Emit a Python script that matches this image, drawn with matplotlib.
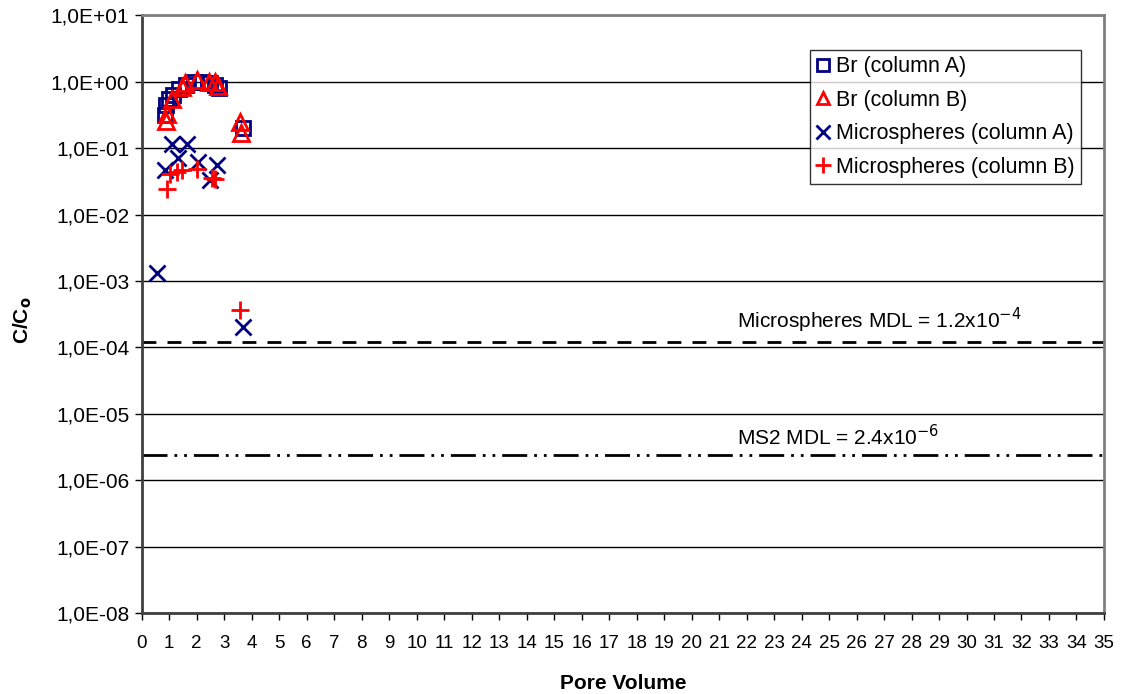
import numpy as np
import matplotlib
matplotlib.use("Agg")
import matplotlib.pyplot as plt
from matplotlib.ticker import FixedLocator, FuncFormatter, NullLocator

plt.rcParams["font.family"] = ["Liberation Sans", "DejaVu Sans"]

# Br tracer, column A / column B
br_a_pv = [0.85, 0.9, 1.0, 1.15, 1.35, 1.6, 1.9, 2.2, 2.5, 2.65, 2.8, 3.7]
br_a_c = [0.32, 0.45, 0.55, 0.62, 0.78, 0.9, 0.98, 0.98, 0.95, 0.9, 0.8, 0.2]
br_b_pv = [0.9, 0.92, 1.09, 1.45, 1.57, 2.0, 2.46, 2.67, 2.79, 3.57, 3.6]
br_b_c = [0.26, 0.33, 0.55, 0.82, 0.94, 1.05, 1.0, 0.99, 0.85, 0.25, 0.17]

# microspheres, column A / column B
ms_a_pv = [0.56, 0.85, 1.09, 1.33, 1.64, 2.06, 2.48, 2.73, 3.69]
ms_a_c = [0.0013, 0.046, 0.117, 0.070, 0.117, 0.062, 0.033, 0.055, 2.0e-4]
ms_b_pv = [0.91, 1.04, 1.27, 1.45, 2.0, 2.55, 2.67, 3.58]
ms_b_c = [0.024, 0.041, 0.044, 0.047, 0.049, 0.035, 0.034, 3.6e-4]

MDL_MS = 1.2e-4
MDL_MS2 = 2.4e-6

NAVY = "#000080"
RED = "#ff0000"

fig = plt.figure(figsize=(11.25, 6.94), dpi=100)
ax = fig.add_axes([0.126, 0.1167, 0.8553, 0.8613])

ax.set_yscale("log")
ax.set_ylim(1e-8, 10)
ax.set_xlim(0, 35)

# detection limits
ax.axhline(MDL_MS, color="black", lw=2, ls=(0, (5, 4)), zorder=2)
ax.axhline(MDL_MS2, color="black", lw=2,
           ls=(0, (9, 2.5, 1, 2.5, 1, 2.5)), zorder=2)
ax.annotate("Microspheres MDL = 1.2x10$^{-4}$", xy=(21.65, MDL_MS),
            xytext=(0, 10), textcoords="offset points",
            fontsize=15, va="baseline", ha="left", zorder=1)
ax.annotate("MS2 MDL = 2.4x10$^{-6}$", xy=(21.65, MDL_MS2),
            xytext=(0, 7), textcoords="offset points",
            fontsize=15, va="baseline", ha="left", zorder=1)

ax.plot(br_a_pv, br_a_c, ls="none", marker="s", ms=10, mfc="none",
        mec=NAVY, mew=2, label="Br (column A)", zorder=3)
ax.plot(br_b_pv, br_b_c, ls="none", marker="^", ms=11, mfc="none",
        mec=RED, mew=2, label="Br (column B)", zorder=4)
ax.plot(ms_a_pv, ms_a_c, ls="none", marker="x", ms=12, mec=NAVY, mew=2,
        label="Microspheres (column A)", zorder=3)
ax.plot(ms_b_pv, ms_b_c, ls="none", marker="+", ms=13, mec=RED, mew=2,
        label="Microspheres (column B)", zorder=4)

# decade gridlines and Excel-like tick labels
decades = [10.0 ** k for k in range(-8, 2)]
ax.yaxis.set_major_locator(FixedLocator(decades))
ax.yaxis.set_minor_locator(NullLocator())
ax.yaxis.set_major_formatter(FuncFormatter(
    lambda v, _: ("1,0E%+03d" % int(round(np.log10(v))))))
ax.grid(axis="y", color="black", lw=1)
ax.set_xticks(range(0, 36))
ax.tick_params(axis="both", direction="out", length=5, width=1,
               color="black")
ax.tick_params(axis="x", pad=11, labelsize=13.5)
ax.tick_params(axis="y", pad=4, labelsize=15)

for side in ("top", "right"):
    ax.spines[side].set_color("#808080")
    ax.spines[side].set_linewidth(2)
for side in ("left", "bottom"):
    ax.spines[side].set_color("#404040")
    ax.spines[side].set_linewidth(2)

ax.set_xlabel("Pore Volume", fontsize=15, fontweight="bold")
ax.xaxis.set_label_coords(0.5, -0.102)
ax.set_ylabel("C/C$_\\mathbf{o}$", fontsize=15, fontweight="bold")
ax.yaxis.set_label_coords(-0.112, 0.49)

leg = ax.legend(loc="upper right", bbox_to_anchor=(1081 / 1125, 1 - 50 / 694),
                bbox_transform=fig.transFigure, fontsize=15.5, frameon=True,
                fancybox=False, edgecolor="black", handlelength=0.6,
                handletextpad=0.3, borderpad=0.3, labelspacing=0.58,
                borderaxespad=0, markerscale=0.85)
leg.get_frame().set_linewidth(1)

fig.savefig("out.png", dpi=100)
